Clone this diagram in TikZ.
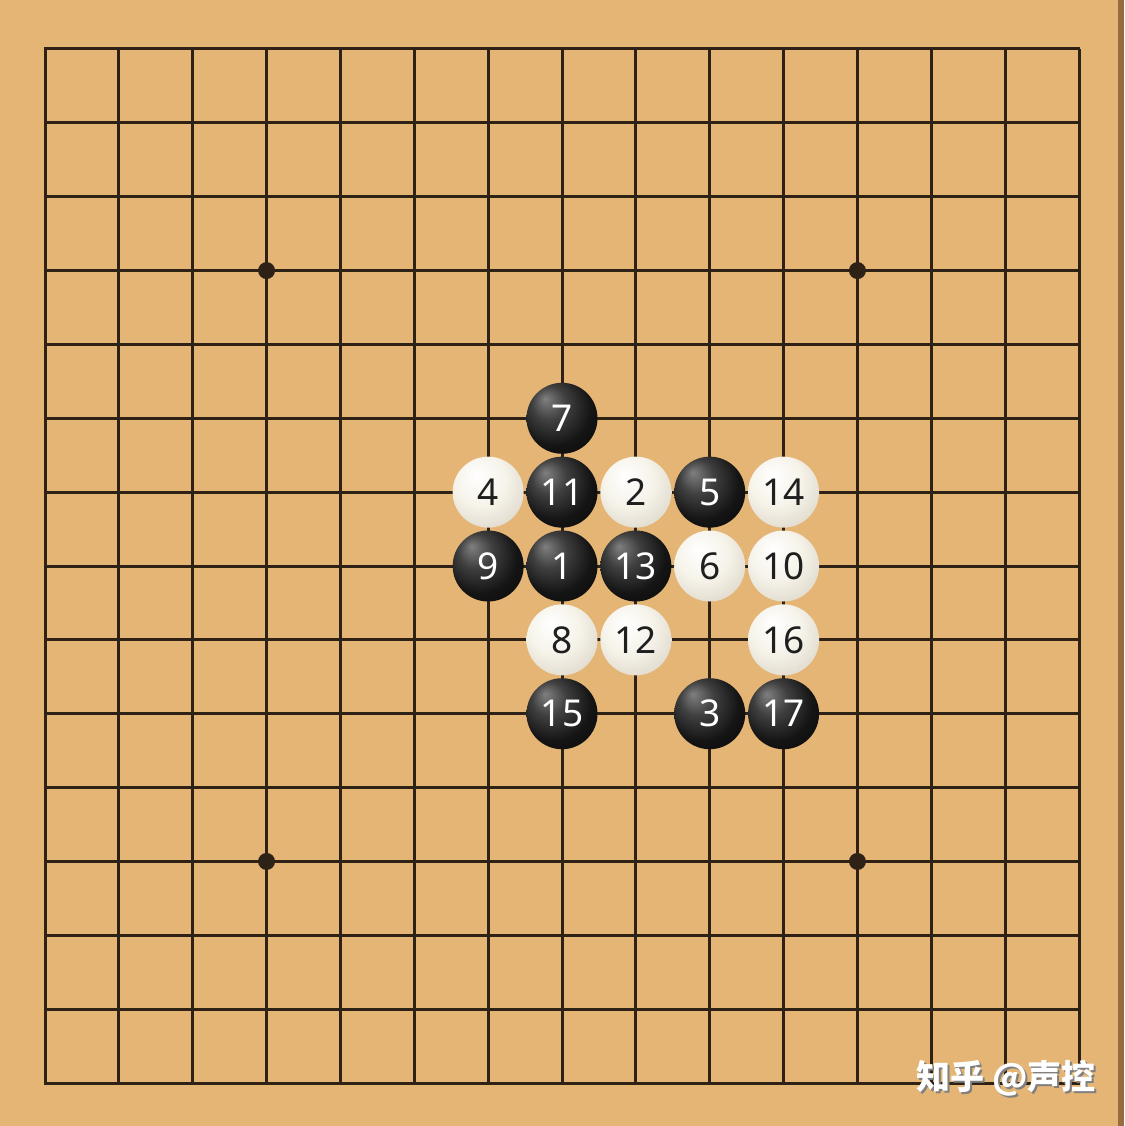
\documentclass[tikz,border=0pt]{standalone}
\usepackage{fontspec}
\setmainfont{Noto Sans}
\newfontfamily\cjk{Noto Sans CJK SC}
\usepackage{xcolor}
\definecolor{boardwood}{RGB}{228,181,116}
\definecolor{boardedge}{RGB}{150,108,62}
\definecolor{gridline}{RGB}{46,33,21}
\definecolor{stoneedge}{RGB}{178,166,142}
\definecolor{stonecream}{RGB}{246,243,234}
\newcommand{\cellW}{73.857}
\pgfdeclareradialshading{blackball}{\pgfpoint{-12bp}{14bp}}{color(0bp)=(black!50!white); color(12bp)=(black!75); color(26bp)=(black!92); color(50bp)=(black)}
\pgfdeclareradialshading{whiteball}{\pgfpoint{-8bp}{12bp}}{color(0bp)=(white); color(18bp)=(stonecream); color(40bp)=(stoneedge!45!stonecream); color(62bp)=(stoneedge)}
\tikzstyle{stone}=[circle, minimum size=71pt, inner sep=0pt, font=\fontsize{37}{37}\selectfont]
\tikzstyle{bstone}=[stone, shading=blackball, text=white]
\tikzstyle{wstone}=[stone, shading=whiteball, text=black!88]
\begin{document}
\begin{tikzpicture}[x=1pt,y=-1pt]
\fill[boardwood] (0,0) rectangle (1124,1126);
\fill[boardedge] (1118,0) rectangle (1124,1126);
\useasboundingbox (0,0) rectangle (1124,1126);
\begin{scope}[shift={(45,49)},x=\cellW pt,y=-\cellW pt]
% grid
\foreach \i in {0,...,14} {
	\draw[gridline, line width=3pt] (\i,0) -- (\i,14);
	\draw[gridline, line width=3pt] (0,\i) -- (14,\i);
}
\draw[gridline, line width=3pt] (-0.02,0) -- (14.02,0) (-0.02,14) -- (14.02,14);
% star points
\foreach \p in {(3,3),(11,3),(3,11),(11,11)}
	\fill[gridline] \p circle (8.5pt);
% stones
\foreach \n/\c/\r in {1/7/7, 3/9/9, 5/9/6, 7/7/5, 9/6/7, 11/7/6, 13/8/7, 15/7/9, 17/10/9}
	\node[bstone] (s\n) at (\c,\r) {\n};
\foreach \n/\c/\r in {2/8/6, 4/6/6, 6/9/7, 8/7/8, 10/10/7, 12/8/8, 14/10/6, 16/10/8}
	\node[wstone] (s\n) at (\c,\r) {\n};
\end{scope}
% watermark
\node[text=black!50, font=\cjk\bfseries\fontsize{34}{34}\selectfont] (wmshadow) at (1008,1080) {知乎 @声控};
\node[text=white, font=\cjk\bfseries\fontsize{34}{34}\selectfont] (wm) at (1006,1078) {知乎 @声控};
\end{tikzpicture}
\end{document}
